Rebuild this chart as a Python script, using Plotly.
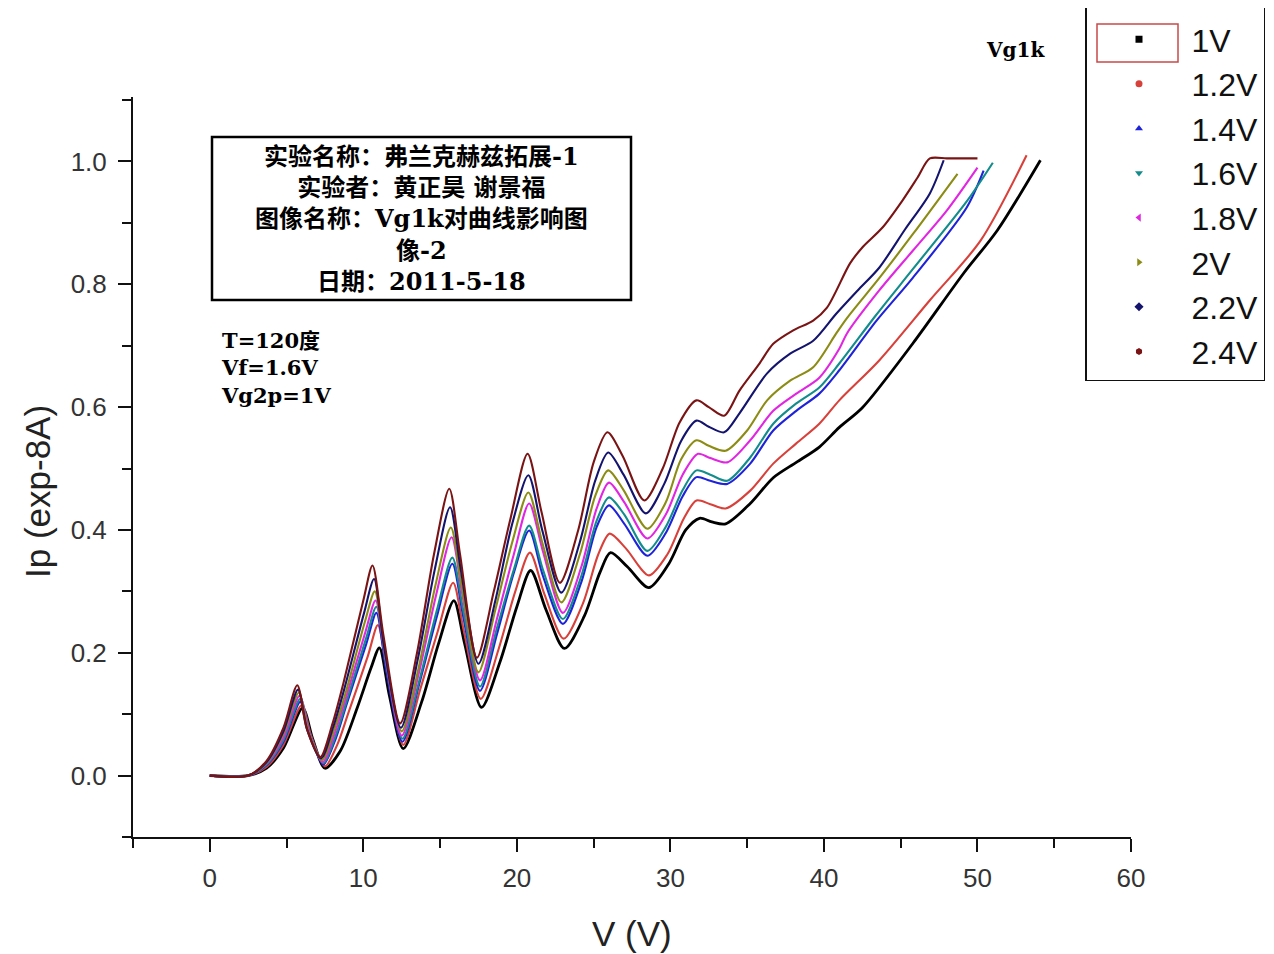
import plotly.graph_objects as go

# ---------------- data ----------------
names = ["1V", "1.2V", "1.4V", "1.6V", "1.8V", "2V", "2.2V", "2.4V"]
colors = ["#000000", "#D8403A", "#1E22D8", "#138C8C", "#E026E0", "#8C8C14", "#14146E", "#7A1414"]
symbols = ["square", "circle", "triangle-up", "triangle-down", "triangle-left",
           "triangle-right", "diamond", "hexagon"]

x_1v = [0, 2.5, 3.7, 4.8, 6.05, 6.7, 7.5, 8.5, 9.6, 10.5, 11.05, 11.7, 12.6, 13.8, 14.9, 15.9,
        16.6, 17.7, 18.9, 20.0, 20.9, 21.9, 23.1, 24.4, 25.4, 26.1, 27.2, 28.6, 29.9, 31.0,
        31.9, 32.7, 33.6, 35.2, 36.7, 38.2, 39.7, 41.0, 42.5, 45.8, 49.1, 51.3, 54.1]
y_1v = [0, 0, 0.012, 0.045, 0.110, 0.060, 0.012, 0.040, 0.110, 0.175, 0.208, 0.130, 0.044, 0.120,
        0.215, 0.285, 0.215, 0.111, 0.185, 0.275, 0.334, 0.270, 0.207, 0.260, 0.330, 0.363,
        0.340, 0.306, 0.345, 0.400, 0.419, 0.413, 0.410, 0.443, 0.485, 0.510, 0.535, 0.567,
        0.599, 0.704, 0.818, 0.888, 1.002]

x_12v = [0, 2.5, 3.7, 4.8, 6.0, 6.6, 7.5, 8.3, 9.0, 10.3, 10.95, 11.6, 12.6, 13.7, 14.85, 15.85,
         16.55, 17.65, 18.8, 19.9, 20.85, 21.8, 23.05, 24.3, 25.3, 26.05, 27.1, 28.6, 29.8, 30.9,
         31.7, 32.6, 33.6, 35.2, 36.7, 38.2, 39.7, 41.0, 43.6, 46.9, 50.2, 53.2]
y_12v = [0, 0, 0.014, 0.050, 0.115, 0.065, 0.015, 0.050, 0.100, 0.195, 0.245, 0.160, 0.050, 0.140,
         0.235, 0.314, 0.235, 0.125, 0.205, 0.300, 0.363, 0.295, 0.223, 0.280, 0.360, 0.394,
         0.370, 0.326, 0.360, 0.420, 0.448, 0.442, 0.435, 0.464, 0.508, 0.541, 0.573, 0.611,
         0.676, 0.774, 0.871, 1.010]

x_14v = [0, 2.5, 3.7, 4.8, 5.9, 6.5, 7.4, 8.2, 8.9, 10.2, 10.85, 11.5, 12.55, 13.65, 14.8, 15.8,
         16.5, 17.6, 18.7, 19.8, 20.8, 21.7, 23.0, 24.2, 25.2, 26.0, 27.0, 28.5, 29.7, 30.8,
         31.7, 32.6, 33.7, 35.2, 36.7, 38.2, 39.7, 41.0, 43.4, 45.8, 49.3, 50.4]
y_14v = [0, 0, 0.017, 0.055, 0.120, 0.068, 0.018, 0.060, 0.115, 0.215, 0.265, 0.170, 0.055, 0.150,
         0.260, 0.345, 0.260, 0.138, 0.230, 0.330, 0.399, 0.325, 0.247, 0.315, 0.405, 0.440,
         0.410, 0.358, 0.395, 0.455, 0.486, 0.480, 0.475, 0.508, 0.562, 0.594, 0.622, 0.660,
         0.740, 0.811, 0.925, 0.985]

x_16v = [0, 2.5, 3.7, 4.8, 5.9, 6.5, 7.4, 8.2, 8.9, 10.2, 10.85, 11.5, 12.55, 13.65, 14.8, 15.8,
         16.5, 17.6, 18.7, 19.8, 20.8, 21.7, 23.0, 24.2, 25.2, 26.0, 27.0, 28.5, 29.7, 30.8,
         31.7, 32.6, 33.7, 35.2, 36.7, 38.2, 39.7, 41.0, 43.4, 45.8, 49.3, 51.0]
y_16v = [0, 0, 0.018, 0.058, 0.125, 0.070, 0.020, 0.065, 0.120, 0.225, 0.275, 0.180, 0.060, 0.155,
         0.270, 0.355, 0.270, 0.145, 0.240, 0.335, 0.407, 0.335, 0.255, 0.325, 0.415, 0.453,
         0.425, 0.366, 0.405, 0.465, 0.497, 0.490, 0.480, 0.518, 0.573, 0.606, 0.632, 0.671,
         0.750, 0.825, 0.935, 0.998]

x_18v = [0, 2.5, 3.7, 4.8, 5.85, 6.45, 7.35, 8.15, 8.85, 10.15, 10.8, 11.45, 12.5, 13.6, 14.75,
         15.75, 16.45, 17.6, 18.7, 19.8, 20.8, 21.7, 23.0, 24.2, 25.2, 26.0, 27.0, 28.5, 29.7,
         30.8, 31.8, 32.6, 33.7, 35.2, 36.7, 38.2, 39.7, 41.0, 41.5, 43.6, 45.8, 48.0, 50.0]
y_18v = [0, 0, 0.020, 0.063, 0.130, 0.072, 0.022, 0.070, 0.125, 0.235, 0.285, 0.190, 0.065, 0.165,
         0.295, 0.388, 0.295, 0.155, 0.255, 0.360, 0.443, 0.365, 0.265, 0.340, 0.435, 0.477,
         0.445, 0.386, 0.425, 0.490, 0.524, 0.517, 0.510, 0.546, 0.594, 0.622, 0.648, 0.695,
         0.720, 0.790, 0.855, 0.920, 0.990]

x_2v = [0, 2.5, 3.7, 4.8, 5.8, 6.4, 7.3, 8.1, 8.8, 10.1, 10.75, 11.4, 12.5, 13.6, 14.7, 15.7,
        16.4, 17.5, 18.6, 19.7, 20.75, 21.65, 22.9, 24.1, 25.1, 25.95, 26.95, 28.5, 29.7, 30.7,
        31.7, 32.5, 33.6, 35.0, 36.3, 37.8, 39.3, 40.8, 41.5, 43.6, 45.8, 48.7]
y_2v = [0, 0, 0.021, 0.068, 0.135, 0.073, 0.025, 0.075, 0.130, 0.250, 0.300, 0.200, 0.072, 0.175,
        0.310, 0.404, 0.310, 0.168, 0.270, 0.380, 0.461, 0.380, 0.282, 0.360, 0.455, 0.497,
        0.465, 0.402, 0.445, 0.515, 0.546, 0.537, 0.529, 0.562, 0.611, 0.643, 0.665, 0.720,
        0.745, 0.810, 0.882, 0.980]

x_22v = [0, 2.5, 3.7, 4.8, 5.75, 6.35, 7.25, 8.05, 8.75, 10.05, 10.7, 11.35, 12.45, 13.55, 14.65,
         15.65, 16.35, 17.5, 18.6, 19.7, 20.75, 21.65, 22.9, 24.1, 25.1, 25.95, 26.95, 28.4, 29.6,
         30.7, 31.7, 32.5, 33.5, 34.5, 36.3, 37.8, 39.3, 40.8, 42.2, 43.6, 45.3, 46.9, 47.8]
y_22v = [0, 0, 0.022, 0.072, 0.140, 0.074, 0.028, 0.080, 0.140, 0.265, 0.320, 0.210, 0.078, 0.190,
         0.335, 0.437, 0.335, 0.182, 0.285, 0.410, 0.489, 0.400, 0.298, 0.380, 0.480, 0.526,
         0.490, 0.427, 0.475, 0.545, 0.578, 0.568, 0.559, 0.590, 0.655, 0.687, 0.708, 0.752,
         0.790, 0.827, 0.890, 0.948, 1.002]

x_24v = [0, 2.5, 3.7, 4.8, 5.7, 6.3, 7.2, 8.0, 8.7, 10.0, 10.6, 11.3, 12.4, 13.5, 14.6, 15.6,
         16.3, 17.4, 18.5, 19.6, 20.7, 21.6, 22.8, 24.0, 25.0, 25.9, 26.9, 28.3, 29.5, 30.6,
         31.7, 32.5, 33.5, 34.5, 35.8, 36.7, 38.0, 39.3, 40.2, 41.7, 42.5, 43.8, 45.1, 46.1,
         46.9, 48.0, 49.0, 50.0]
y_24v = [0, 0, 0.024, 0.078, 0.147, 0.078, 0.030, 0.085, 0.150, 0.285, 0.342, 0.230, 0.085, 0.200,
         0.360, 0.467, 0.360, 0.192, 0.300, 0.420, 0.524, 0.430, 0.314, 0.400, 0.510, 0.559,
         0.520, 0.448, 0.500, 0.575, 0.611, 0.600, 0.586, 0.627, 0.671, 0.703, 0.725, 0.741,
         0.762, 0.834, 0.860, 0.892, 0.936, 0.974, 1.005, 1.005, 1.005, 1.005]

xs = [x_1v, x_12v, x_14v, x_16v, x_18v, x_2v, x_22v, x_24v]
ys = [y_1v, y_12v, y_14v, y_16v, y_18v, y_2v, y_22v, y_24v]

x_ticks = [0, 10, 20, 30, 40, 50, 60]
y_ticks = [0.0, 0.2, 0.4, 0.6, 0.8, 1.0]

info_lines = ["实验名称：弗兰克赫兹拓展-1", "实验者：黄正昊 谢景福",
              "图像名称：Vg1k对曲线影响图", "像-2", "日期：2011-5-18"]
cond_lines = ["T=120度", "Vf=1.6V", "Vg2p=1V"]

# ---------------- figure ----------------
OFF = 8                      # page body margin of the html page
W, H = 1274 - OFF, 954 - OFF
L, T = 133 - OFF, 97 - OFF
R, B = W - (1131 - OFF), H - (837 - OFF)
pw, ph = W - L - R, H - T - B


def px(xp):
    return (xp - OFF - L) / pw


def py(yp):
    return (H - B - (yp - OFF)) / ph


fig = go.Figure()
for i, n in enumerate(names):
    fig.add_trace(go.Scatter(
        x=xs[i], y=ys[i], mode="lines", name=n, showlegend=False,
        line=dict(color=colors[i], width=2.8 if i == 0 else 2.1, shape="spline", smoothing=0.8),
    ))
# legend entries with Origin-like symbols
for i, n in enumerate(names):
    fig.add_trace(go.Scatter(
        x=[None], y=[None], mode="markers", name=n,
        marker=dict(symbol=symbols[i], color=colors[i], size=7),
    ))

sans = "Arial, Liberation Sans, sans-serif"
serif = "DejaVu Serif, Noto Sans CJK SC, serif"

fig.update_layout(
    width=W, height=H,
    margin=dict(l=L, r=R, t=T, b=B, autoexpand=False),
    paper_bgcolor="white", plot_bgcolor="white",
    font=dict(family=sans, color="#222"),
    showlegend=True,
    legend=dict(
        x=px(1085), y=py(0), xanchor="left", yanchor="top",
        bordercolor="#111", borderwidth=1.5, bgcolor="rgba(255,255,255,0)",
        font=dict(family=sans, size=32, color="#111"),
        itemwidth=95, tracegroupgap=0,
        title=dict(text=" ", font=dict(size=8)),
    ),
    xaxis=dict(
        range=[-5, 60], tickvals=x_ticks, ticks="outside", ticklen=13, tickwidth=2,
        tickcolor="#111", showline=True, linecolor="#111", linewidth=2, showgrid=False,
        zeroline=False, mirror=False, ticklabelstandoff=4,
        tickfont=dict(family=sans, size=26, color="#333"),
        minor=dict(dtick=5, tick0=0, ticks="outside", ticklen=9, tickwidth=2, tickcolor="#111"),
    ),
    yaxis=dict(
        range=[-0.1, 1.105], tickvals=y_ticks, tickformat=".1f", ticks="outside", ticklen=13,
        tickwidth=2, tickcolor="#111", showline=True, linecolor="#111", linewidth=2,
        showgrid=False, zeroline=False, mirror=False, ticklabelstandoff=6,
        tickfont=dict(family=sans, size=26, color="#333"),
        minor=dict(dtick=0.1, tick0=0, ticks="outside", ticklen=9, tickwidth=2, tickcolor="#111"),
    ),
)

shapes = [
    dict(type="rect", xref="paper", yref="paper", x0=px(212), x1=px(631), y0=py(300), y1=py(137),
         line=dict(color="black", width=2.5), fillcolor="rgba(0,0,0,0)"),
    dict(type="rect", xref="paper", yref="paper", x0=px(1097), x1=px(1178), y0=py(62), y1=py(24),
         line=dict(color="#C84848", width=1.5), fillcolor="rgba(0,0,0,0)"),
]
fig.update_layout(shapes=shapes)

# axis titles
fig.add_annotation(xref="paper", yref="paper", x=px(632), y=py(933), text="V (V)",
                   showarrow=False, xanchor="center", yanchor="middle",
                   font=dict(family=sans, size=35, color="#222"))
fig.add_annotation(xref="paper", yref="paper", x=px(37), y=py(492), text="Ip (exp-8A)",
                   textangle=-90, showarrow=False, xanchor="center", yanchor="middle",
                   font=dict(family=sans, size=35, color="#222"))

fig.add_annotation(xref="paper", yref="paper", x=px(421), y=py(219),
                   text="<br>".join("<b>" + t + "</b>" for t in info_lines),
                   showarrow=False, xanchor="center", yanchor="middle", align="center",
                   font=dict(family=serif, size=24, color="black"))
fig.add_annotation(xref="paper", yref="paper", x=px(219), y=py(368),
                   text="<br>".join("<b>" + t + "</b>" for t in cond_lines),
                   showarrow=False, xanchor="left", yanchor="middle", align="left",
                   font=dict(family=serif, size=21, color="black"))
fig.add_annotation(xref="paper", yref="paper", x=px(1015), y=py(50), text="<b>Vg1k</b>",
                   showarrow=False, xanchor="center", yanchor="middle",
                   font=dict(family=serif, size=20, color="black"))

fig.write_html("out.html")
